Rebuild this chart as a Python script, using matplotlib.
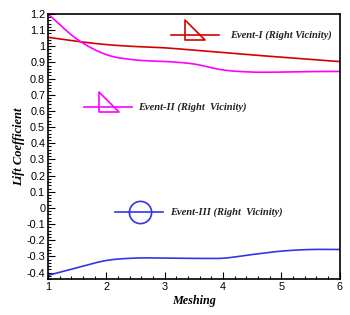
import matplotlib
matplotlib.use("Agg")
import matplotlib.pyplot as plt
import numpy as np
from matplotlib.ticker import MultipleLocator, FuncFormatter
from matplotlib.path import Path

mesh = [1, 1.5, 2, 2.5, 3, 3.5, 4, 4.5, 5, 5.5, 6]
event1 = [1.055, 1.03, 1.01, 0.998, 0.99, 0.975, 0.96, 0.946, 0.932, 0.918, 0.905]
event2 = [1.2, 1.043, 0.948, 0.915, 0.906, 0.89, 0.853, 0.84, 0.84, 0.843, 0.844]
event3 = [-0.417, -0.37, -0.325, -0.31, -0.31, -0.312, -0.311, -0.288, -0.267, -0.257, -0.257]
labels = ["Event-I (Right Vicinity)", "Event-II (Right  Vicinity)", "Event-III (Right  Vicinity)"]
colors = ["#d40000", "#ff00ff", "#3333ee"]

def smooth(x, y):
    x = np.asarray(x, float); y = np.asarray(y, float)
    xs, ys = [], []
    P = np.column_stack([x, y])
    P = np.vstack([2*P[0]-P[1], P, 2*P[-1]-P[-2]])
    for i in range(1, len(P)-2):
        p0, p1, p2, p3 = P[i-1], P[i], P[i+1], P[i+2]
        t = np.linspace(0, 1, 20, endpoint=False)[:, None]
        pts = 0.5*((2*p1) + (-p0+p2)*t + (2*p0-5*p1+4*p2-p3)*t**2 + (-p0+3*p1-3*p2+p3)*t**3)
        xs.extend(pts[:, 0]); ys.extend(pts[:, 1])
    xs.append(x[-1]); ys.append(y[-1])
    return np.array(xs), np.array(ys)

fig = plt.figure(figsize=(3.5, 3.15), dpi=100)
ax = fig.add_axes([0.137, 0.114, 0.834, 0.842])

for yv, c in zip([event1, event2, event3], colors):
    sx, sy = smooth(mesh, yv)
    ax.plot(sx, sy, color=c, lw=1.2)

ax.set_xlim(1, 6)
ax.set_ylim(-0.44, 1.2)
ax.xaxis.set_major_locator(MultipleLocator(1))
ax.xaxis.set_minor_locator(MultipleLocator(0.2))
ax.yaxis.set_major_locator(MultipleLocator(0.1))
ax.yaxis.set_minor_locator(MultipleLocator(0.02))
ax.yaxis.set_major_formatter(FuncFormatter(lambda v, p: ("%g" % round(v, 2)) if abs(v) > 1e-9 else "0"))
ax.tick_params(which="both", direction="in", top=False, right=False, labelsize=7.8, pad=2, width=0.8)
ax.tick_params(which="major", length=5)
ax.tick_params(which="minor", length=2.5)
for s in ax.spines.values():
    s.set_linewidth(1.2)
for lab in ax.get_xticklabels() + ax.get_yticklabels():
    lab.set_family("Liberation Sans")

font = dict(family="Liberation Serif", style="italic", weight="bold")
ax.set_xlabel("Meshing", fontsize=8.7, labelpad=2, **font)
ax.set_ylabel("Lift Coefficient", fontsize=9, labelpad=1, **font)

tri = Path([(-1, 1), (-1, -1), (1, -1), (-1, 1)], [Path.MOVETO, Path.LINETO, Path.LINETO, Path.CLOSEPOLY])

entries = [
    (0.42, 0.92, 0.625, colors[0], tri, labels[0]),
    (0.124, 0.647, 0.31, colors[1], tri, labels[1]),
    (0.23, 0.253, 0.42, colors[2], "o", labels[2]),
]
for (x0, yy, xt, c, m, lab) in entries:
    ax.plot([x0, x0 + 0.165], [yy, yy], color=c, lw=1.2, transform=ax.transAxes, clip_on=False)
    ms = 14 if m is tri else 16
    dy = 0.02 if m is tri else 0.0
    ax.plot([x0 + 0.085], [yy + dy], marker=m, ms=ms, mfc="none", mec=c, mew=1.2,
            transform=ax.transAxes, linestyle="none")
    ax.text(xt, yy, lab, transform=ax.transAxes, fontsize=7.6, va="center", ha="left",
            color="#222222", **font)

fig.savefig("out.png", dpi=100)
